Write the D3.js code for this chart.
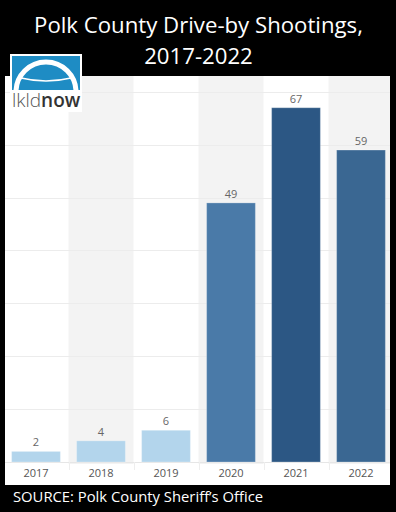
<!DOCTYPE html>
<html><head><meta charset="utf-8">
<script src="https://cdn.jsdelivr.net/npm/d3@7"></script>
<style>html,body{margin:0;padding:0;background:#000;}svg{display:block;}</style>
</head><body>
<svg id="chart" width="396" height="512"></svg>
<script>
const years = ["2017","2018","2019","2020","2021","2022"];
const values = [2, 4, 6, 49, 67, 59];
const gridTicks = [10, 20, 30, 40, 50, 60, 70];
const titleLines = ["Polk County Drive-by Shootings,", "2017-2022"];
const sourceText = "SOURCE: Polk County Sheriff\u2019s Office";

const barColors = ["#b3d5ec","#b3d5ec","#b3d5ec","#4a7aa8","#2c5784","#3a6792"];

const svg = d3.select("#chart");
svg.append("rect").attr("width",396).attr("height",512).attr("fill","#000");

// panel
const panel = {x0:5, x1:390, y0:76, y1:485};
svg.append("rect").attr("x",panel.x0).attr("y",panel.y0)
  .attr("width",panel.x1-panel.x0).attr("height",panel.y1-panel.y0).attr("fill","#fff");

const x = d3.scaleBand().domain(years).range([3.5, 393.5]).paddingInner(0.25).paddingOuter(0.125);
const y = d3.scaleLinear().domain([0,73]).range([462,76]);
const step = x.step();

svg.append("clipPath").attr("id","pc").append("rect")
  .attr("x",panel.x0).attr("y",panel.y0).attr("width",panel.x1-panel.x0).attr("height",panel.y1-panel.y0);
const g = svg.append("g").attr("clip-path","url(#pc)");

// alternating bands
g.selectAll(".band").data(years.filter((d,i)=>i%2===1)).join("rect")
  .attr("x",d=>x(d)-x.paddingInner()*step/2)
  .attr("y",y(73)).attr("width",step).attr("height",y(0)-y(73)+2)
  .attr("fill","#f3f3f3");

// gridlines
g.selectAll(".grid").data(gridTicks).join("line")
  .attr("x1",panel.x0).attr("x2",panel.x1)
  .attr("y1",d=>Math.round(y(d))+0.5).attr("y2",d=>Math.round(y(d))+0.5)
  .attr("stroke","#ececec").attr("stroke-width",1);

// baseline
g.append("line").attr("x1",panel.x0).attr("x2",panel.x1)
  .attr("y1",Math.round(y(0))+0.5).attr("y2",Math.round(y(0))+0.5)
  .attr("stroke","#e6e6e6");

// separators under axis
g.selectAll(".sep").data(years.slice(1)).join("line")
  .attr("x1",d=>Math.round(x(d)-x.paddingInner()*step/2)+0.5)
  .attr("x2",d=>Math.round(x(d)-x.paddingInner()*step/2)+0.5)
  .attr("y1",y(0)).attr("y2",y(0)+8).attr("stroke","#eeeeee");

// bars
g.selectAll(".bar").data(years).join("rect")
  .attr("x",d=>x(d)).attr("width",x.bandwidth())
  .attr("y",(d,i)=>y(values[i])).attr("height",(d,i)=>y(0)-y(values[i]))
  .attr("fill",(d,i)=>barColors[i])
  .attr("stroke","rgba(255,255,255,0.25)").attr("stroke-width",1);

// value labels
g.selectAll(".val").data(years).join("text")
  .attr("x",d=>x(d)+x.bandwidth()/2).attr("y",(d,i)=>y(values[i])-5)
  .attr("text-anchor","middle").attr("font-family","Open Sans, sans-serif")
  .attr("font-size",11).attr("fill","#666").text((d,i)=>values[i]);

// x axis labels
const xAxis = d3.axisBottom(x).tickSize(0).tickPadding(7);
const ax = svg.append("g").attr("transform",`translate(0,${y(0)})`).call(xAxis);
ax.select(".domain").remove();
ax.selectAll("text").attr("font-family","Open Sans, sans-serif").attr("font-size",11).attr("fill","#555");

// title
svg.selectAll(".title").data(titleLines).join("text")
  .attr("x",198.5).attr("y",(d,i)=>32.5+i*31).attr("text-anchor","middle")
  .attr("font-family","Open Sans, sans-serif").attr("font-size",22.2).attr("fill","#fff").text(d=>d);

// source
svg.append("text").attr("x",13).attr("y",501.5)
  .attr("font-family","Open Sans, sans-serif").attr("font-size",14.8).attr("fill","#fff").text(sourceText);

// logo
const logo = svg.append("g");
logo.append("rect").attr("x",10).attr("y",54).attr("width",72).attr("height",58).attr("fill","#fff");
logo.append("rect").attr("x",12).attr("y",56).attr("width",68).attr("height",34).attr("fill","#1e8cc4");
logo.append("clipPath").attr("id","lc").append("rect").attr("x",12).attr("y",56).attr("width",68).attr("height",34);
const lg = logo.append("g").attr("clip-path","url(#lc)");
lg.append("path").attr("d","M16,92 A30,30 0 0 1 76,92").attr("fill","none").attr("stroke","#fff").attr("stroke-width",5);
lg.append("path").attr("d","M21,78 Q46,84 71,78").attr("fill","none").attr("stroke","#fff").attr("stroke-width",1.5);
const lt = logo.append("text").attr("x",12).attr("y",107).attr("font-family","Open Sans, sans-serif").attr("font-size",19);
lt.append("tspan").attr("font-weight",300).attr("fill","#555").text("lkld");
lt.append("tspan").attr("font-weight",600).attr("fill","#333").text("now");
</script>
</body></html>
